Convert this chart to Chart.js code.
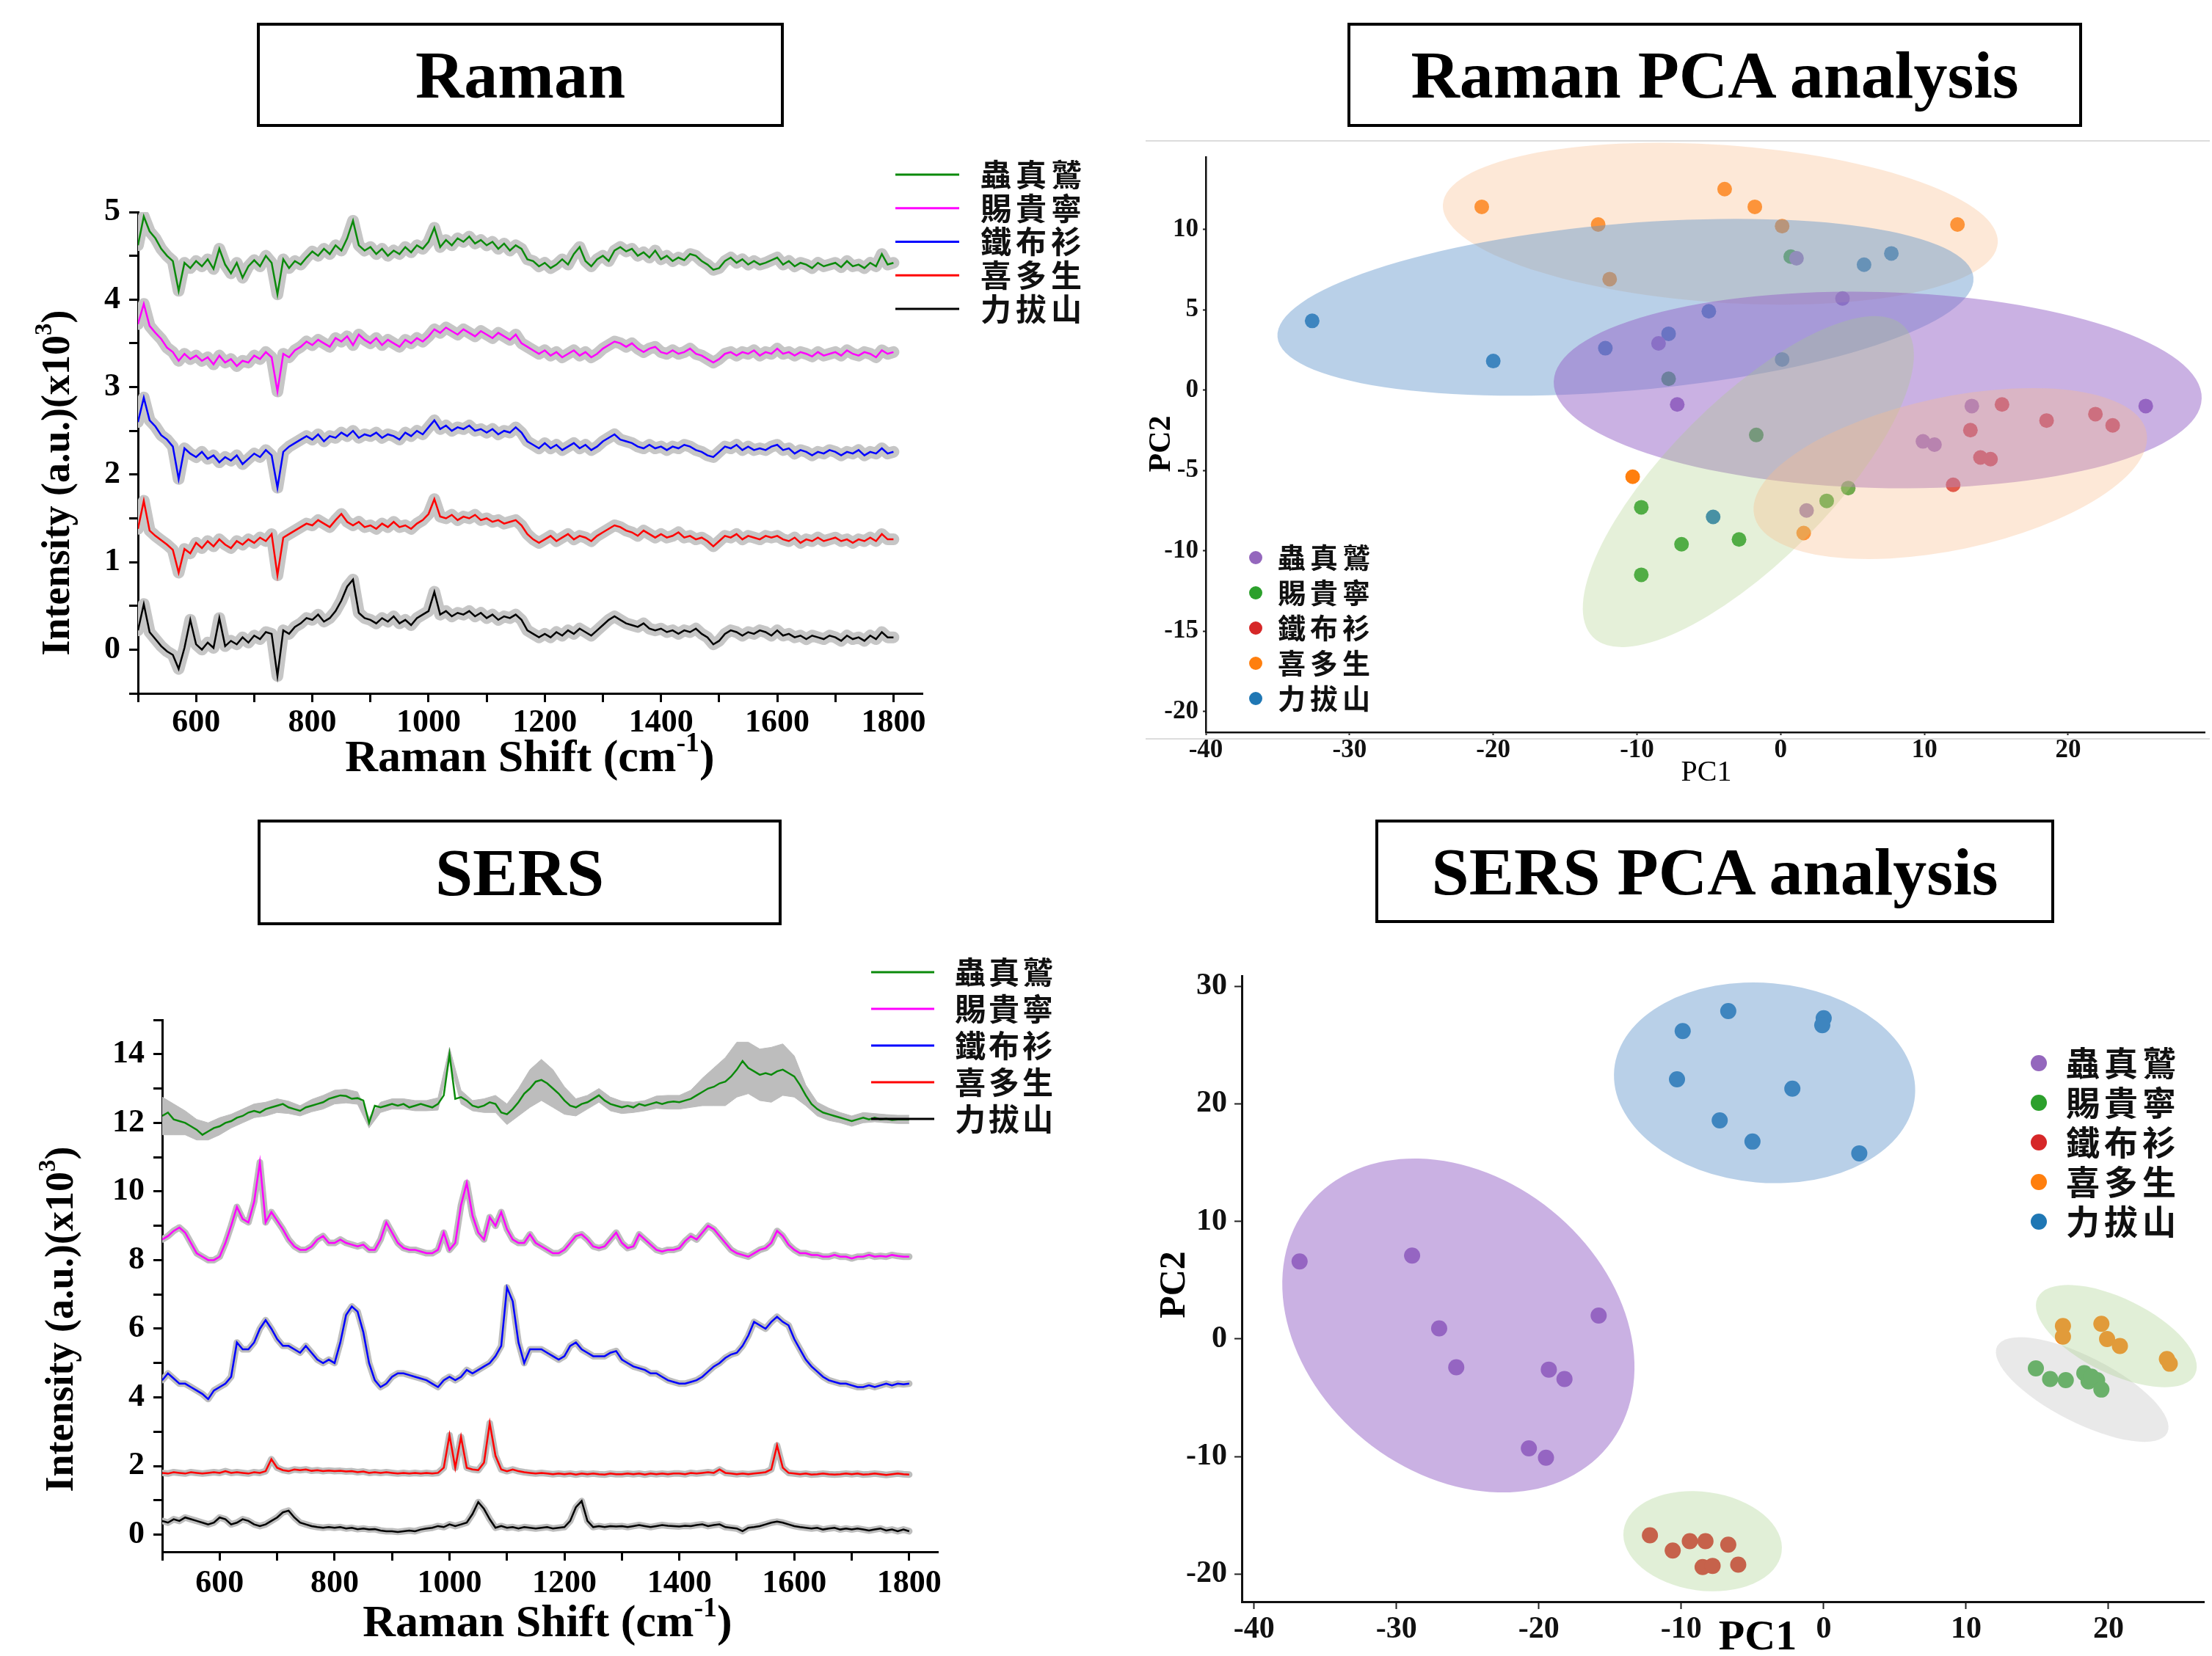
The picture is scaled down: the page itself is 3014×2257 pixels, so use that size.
<!DOCTYPE html>
<html>
<head>
<meta charset="utf-8">
<script src="https://cdn.jsdelivr.net/npm/chart.js@4.4.1/dist/chart.umd.min.js"></script>
<style>
  body { margin: 0; background: #fff; }
  #page { position: relative; width: 3014px; height: 2257px; overflow: hidden; background: #fff; }
  .box {
    position: absolute; box-sizing: border-box; border: 4px solid #000;
    display: flex; align-items: center; justify-content: center;
    font: bold 92px "Liberation Serif", "Times New Roman", serif; color: #000;
  }
  .rule { position: absolute; background: #dcdcdc; }
  canvas { position: absolute; }
</style>
</head>
<body>
<div id="page">
  <div class="box" style="left:350px;top:31px;width:718px;height:142px">Raman</div>
  <div class="box" style="left:1836px;top:31px;width:1001px;height:142px">Raman PCA analysis</div>
  <div class="box" style="left:351px;top:1117px;width:714px;height:144px">SERS</div>
  <div class="box" style="left:1874px;top:1117px;width:925px;height:141px">SERS PCA analysis</div>

  <div class="rule" style="left:1561px;top:191px;width:1450px;height:2px"></div>
  <div class="rule" style="left:1561px;top:1006px;width:1450px;height:2px"></div>

  <canvas id="raman" width="1560" height="920" style="left:0;top:180px"></canvas>
  <canvas id="ramanPca" width="1454" height="900" style="left:1560px;top:180px"></canvas>
  <canvas id="sers" width="1560" height="987" style="left:0;top:1270px"></canvas>
  <canvas id="sersPca" width="1454" height="987" style="left:1560px;top:1270px"></canvas>
</div>

<script>
const sampleNames = ['蟲真鷲', '賜貴寧', '鐵布衫', '喜多生', '力拔山'];

// Raman shift grid (cm-1), shared by both spectra panels
const ramanShift = [
  500, 510, 520, 530, 540, 550, 560, 570, 580, 590,
  600, 610, 620, 630, 640, 650, 660, 670, 680, 690,
  700, 710, 720, 730, 740, 750, 760, 770, 780, 790,
  800, 810, 820, 830, 840, 850, 860, 870, 880, 890,
  900, 910, 920, 930, 940, 950, 960, 970, 980, 990,
  1000, 1010, 1020, 1030, 1040, 1050, 1060, 1070, 1080, 1090,
  1100, 1110, 1120, 1130, 1140, 1150, 1160, 1170, 1180, 1190,
  1200, 1210, 1220, 1230, 1240, 1250, 1260, 1270, 1280, 1290,
  1300, 1310, 1320, 1330, 1340, 1350, 1360, 1370, 1380, 1390,
  1400, 1410, 1420, 1430, 1440, 1450, 1460, 1470, 1480, 1490,
  1500, 1510, 1520, 1530, 1540, 1550, 1560, 1570, 1580, 1590,
  1600, 1610, 1620, 1630, 1640, 1650, 1660, 1670, 1680, 1690,
  1700, 1710, 1720, 1730, 1740, 1750, 1760, 1770, 1780, 1790,
  1800,
];

const shiftTickMarks = [500, 600, 700, 800, 900, 1000, 1100, 1200, 1300, 1400, 1500, 1600, 1700, 1800];
const shiftTickLabels = [600, 800, 1000, 1200, 1400, 1600, 1800];
const ramanYTickMarks = [-0.5, 0, 0.5, 1, 1.5, 2, 2.5, 3, 3.5, 4, 4.5, 5];
const ramanYTickLabels = [0, 1, 2, 3, 4, 5];
const sersYTickMarks = [0, 1, 2, 3, 4, 5, 6, 7, 8, 9, 10, 11, 12, 13, 14, 15];
const sersYTickLabels = [0, 2, 4, 6, 8, 10, 12, 14];
const pcaXTicks = [-40, -30, -20, -10, 0, 10, 20];
const ramanPcaYTicks = [-20, -15, -10, -5, 0, 5, 10];
const sersPcaYTicks = [-20, -10, 0, 10, 20, 30];

// Raman spectra, intensity x10^3 (offset traces)
const ramanChong = [
  4.62, 4.95, 4.78, 4.70, 4.58, 4.50, 4.44, 4.10, 4.42, 4.36,
  4.44, 4.38, 4.46, 4.35, 4.58, 4.40, 4.30, 4.42, 4.25, 4.38,
  4.45, 4.38, 4.50, 4.42, 4.06, 4.46, 4.36, 4.44, 4.40, 4.48,
  4.55, 4.50, 4.58, 4.52, 4.62, 4.56, 4.70, 4.90, 4.62, 4.56,
  4.60, 4.52, 4.58, 4.50, 4.56, 4.52, 4.60, 4.54, 4.62, 4.58,
  4.66, 4.82, 4.60, 4.68, 4.62, 4.70, 4.66, 4.72, 4.64, 4.68,
  4.62, 4.66, 4.58, 4.64, 4.56, 4.62, 4.58, 4.46, 4.44, 4.38,
  4.42, 4.36, 4.40, 4.46, 4.40, 4.52, 4.60, 4.44, 4.38, 4.46,
  4.50, 4.44, 4.56, 4.60, 4.55, 4.58, 4.50, 4.54, 4.48, 4.56,
  4.46, 4.50, 4.44, 4.48, 4.45, 4.52, 4.50, 4.44, 4.40, 4.34,
  4.36, 4.44, 4.48, 4.42, 4.46, 4.40, 4.44, 4.40, 4.42, 4.45,
  4.48, 4.40, 4.44, 4.38, 4.42, 4.40, 4.36, 4.42, 4.38, 4.40,
  4.42, 4.37, 4.44, 4.38, 4.40, 4.36, 4.42, 4.38, 4.52, 4.40,
  4.42,
];
const ramanCigui = [
  3.72, 3.95, 3.70, 3.62, 3.55, 3.45, 3.40, 3.30, 3.38, 3.32,
  3.36, 3.30, 3.34, 3.26, 3.36, 3.28, 3.32, 3.24, 3.30, 3.28,
  3.36, 3.32, 3.40, 3.34, 2.95, 3.38, 3.34, 3.42, 3.46, 3.52,
  3.48, 3.54, 3.50, 3.46, 3.56, 3.52, 3.58, 3.48, 3.60, 3.54,
  3.50, 3.56, 3.48, 3.54, 3.50, 3.46, 3.54, 3.50, 3.56, 3.52,
  3.58, 3.66, 3.62, 3.68, 3.64, 3.60, 3.66, 3.62, 3.58, 3.64,
  3.60, 3.56, 3.62, 3.58, 3.54, 3.60, 3.50, 3.46, 3.42, 3.38,
  3.42, 3.36, 3.40, 3.34, 3.38, 3.42, 3.36, 3.40, 3.34, 3.38,
  3.44, 3.48, 3.52, 3.50, 3.46, 3.50, 3.44, 3.40, 3.44, 3.46,
  3.40, 3.38, 3.42, 3.38, 3.40, 3.44, 3.38, 3.36, 3.32, 3.28,
  3.32, 3.38, 3.40, 3.36, 3.40, 3.38, 3.42, 3.36, 3.40, 3.38,
  3.44, 3.38, 3.40, 3.36, 3.40, 3.38, 3.35, 3.40, 3.36, 3.38,
  3.40, 3.36, 3.42, 3.38, 3.36, 3.40, 3.38, 3.34, 3.42, 3.38,
  3.40,
];
const ramanTiebu = [
  2.60, 2.88, 2.62, 2.55, 2.45, 2.40, 2.32, 1.95, 2.30, 2.24,
  2.20, 2.26, 2.18, 2.22, 2.14, 2.20, 2.16, 2.22, 2.12, 2.18,
  2.24, 2.20, 2.28, 2.22, 1.85, 2.26, 2.32, 2.36, 2.40, 2.44,
  2.40, 2.46, 2.38, 2.44, 2.42, 2.48, 2.44, 2.50, 2.42, 2.46,
  2.44, 2.48, 2.42, 2.46, 2.44, 2.40, 2.48, 2.44, 2.50, 2.46,
  2.54, 2.62, 2.52, 2.56, 2.50, 2.54, 2.52, 2.56, 2.50, 2.52,
  2.48, 2.52, 2.46, 2.50, 2.48, 2.54, 2.48, 2.38, 2.34, 2.30,
  2.36, 2.30, 2.34, 2.28, 2.32, 2.36, 2.30, 2.34, 2.28, 2.32,
  2.38, 2.42, 2.46, 2.40, 2.38, 2.36, 2.32, 2.30, 2.34, 2.30,
  2.32, 2.28, 2.32, 2.30, 2.34, 2.32, 2.28, 2.26, 2.22, 2.20,
  2.26, 2.32, 2.30, 2.34, 2.28, 2.32, 2.28, 2.30, 2.28, 2.32,
  2.34, 2.28, 2.30, 2.24, 2.28, 2.26, 2.22, 2.26, 2.24, 2.28,
  2.26, 2.22, 2.26, 2.24, 2.28, 2.22, 2.26, 2.24, 2.30, 2.24,
  2.26,
];
const ramanXiduo = [
  1.38, 1.70, 1.36, 1.30, 1.25, 1.20, 1.14, 0.88, 1.15, 1.10,
  1.22, 1.16, 1.24, 1.18, 1.26, 1.20, 1.16, 1.24, 1.20, 1.26,
  1.22, 1.28, 1.24, 1.32, 0.85, 1.28, 1.32, 1.36, 1.40, 1.44,
  1.42, 1.48, 1.44, 1.40, 1.48, 1.55, 1.46, 1.42, 1.46, 1.40,
  1.42, 1.38, 1.44, 1.40, 1.46, 1.40, 1.42, 1.38, 1.44, 1.48,
  1.55, 1.72, 1.52, 1.50, 1.54, 1.48, 1.52, 1.50, 1.54, 1.48,
  1.50, 1.46, 1.48, 1.44, 1.46, 1.48, 1.42, 1.32, 1.26, 1.22,
  1.26, 1.30, 1.24, 1.28, 1.32, 1.26, 1.30, 1.28, 1.24, 1.30,
  1.34, 1.38, 1.42, 1.40, 1.36, 1.34, 1.30, 1.36, 1.32, 1.28,
  1.32, 1.28, 1.30, 1.34, 1.28, 1.30, 1.26, 1.28, 1.24, 1.18,
  1.24, 1.30, 1.28, 1.32, 1.26, 1.30, 1.28, 1.26, 1.30, 1.28,
  1.30, 1.26, 1.24, 1.28, 1.22, 1.26, 1.24, 1.28, 1.24, 1.26,
  1.28, 1.24, 1.26, 1.22, 1.26, 1.24, 1.28, 1.24, 1.32, 1.26,
  1.26,
];
const ramanLiba = [
  0.22, 0.52, 0.20, 0.12, 0.04, -0.02, -0.06, -0.22, 0.02, 0.34,
  0.06, 0.00, 0.08, 0.02, 0.36, 0.04, 0.10, 0.06, 0.14, 0.08,
  0.16, 0.12, 0.20, 0.18, -0.30, 0.22, 0.18, 0.26, 0.30, 0.36,
  0.34, 0.40, 0.32, 0.36, 0.44, 0.56, 0.72, 0.80, 0.42, 0.36,
  0.34, 0.30, 0.36, 0.32, 0.38, 0.30, 0.34, 0.28, 0.36, 0.40,
  0.44, 0.66, 0.40, 0.44, 0.38, 0.42, 0.40, 0.44, 0.38, 0.42,
  0.36, 0.40, 0.34, 0.38, 0.36, 0.40, 0.34, 0.22, 0.18, 0.14,
  0.18, 0.14, 0.20, 0.16, 0.22, 0.18, 0.24, 0.20, 0.16, 0.22,
  0.28, 0.34, 0.38, 0.34, 0.30, 0.28, 0.26, 0.30, 0.24, 0.22,
  0.24, 0.20, 0.22, 0.18, 0.22, 0.20, 0.24, 0.18, 0.14, 0.06,
  0.10, 0.18, 0.22, 0.20, 0.16, 0.20, 0.18, 0.22, 0.20, 0.16,
  0.22, 0.16, 0.18, 0.14, 0.16, 0.12, 0.16, 0.14, 0.12, 0.16,
  0.14, 0.10, 0.16, 0.12, 0.14, 0.10, 0.16, 0.12, 0.20, 0.14,
  0.14,
];

// SERS spectra, intensity x10^3 (offset traces)
const sersChong = [
  12.20, 12.30, 12.10, 12.05, 12.00, 11.90, 11.80, 11.65, 11.75, 11.85,
  11.90, 12.00, 12.05, 12.15, 12.20, 12.30, 12.35, 12.30, 12.40, 12.45,
  12.50, 12.55, 12.45, 12.40, 12.35, 12.45, 12.50, 12.55, 12.60, 12.70,
  12.75, 12.80, 12.78, 12.70, 12.72, 12.65, 12.00, 12.50, 12.45, 12.50,
  12.55, 12.50, 12.55, 12.45, 12.50, 12.55, 12.50, 12.45, 12.55, 12.80,
  14.00, 12.70, 12.75, 12.65, 12.50, 12.45, 12.50, 12.60, 12.55, 12.30,
  12.25, 12.40, 12.60, 12.85, 13.00, 13.20, 13.25, 13.15, 13.00, 12.85,
  12.65, 12.50, 12.45, 12.55, 12.60, 12.70, 12.80, 12.65, 12.55, 12.50,
  12.45, 12.50, 12.45, 12.55, 12.50, 12.55, 12.60, 12.55, 12.60, 12.62,
  12.60, 12.65, 12.70, 12.80, 12.90, 13.00, 13.05, 13.15, 13.20, 13.35,
  13.55, 13.80, 13.60, 13.50, 13.40, 13.45, 13.40, 13.50, 13.55, 13.45,
  13.35, 13.10, 12.80, 12.55, 12.40, 12.30, 12.25, 12.20, 12.15, 12.10,
  12.05, 12.10, 12.15, 12.10, 12.15, 12.10, 12.12, 12.08, 12.10, 12.10,
  12.10,
];
// half-width of the grey spread around sersChong, every 20 cm-1
const sersChongSpread = [
  0.55, 0.45, 0.35, 0.30, 0.25,
  0.25, 0.20, 0.20, 0.20, 0.20,
  0.20, 0.18, 0.15, 0.18, 0.20,
  0.20, 0.20, 0.18, 0.15, 0.15,
  0.15, 0.15, 0.15, 0.15, 0.18,
  0.20, 0.20, 0.15, 0.20, 0.25,
  0.30, 0.40, 0.55, 0.60, 0.55,
  0.40, 0.25, 0.20, 0.20, 0.20,
  0.18, 0.15, 0.15, 0.18, 0.20,
  0.20, 0.25, 0.40, 0.55, 0.70,
  0.80, 0.75, 0.75, 0.80, 0.75,
  0.60, 0.30, 0.20, 0.18, 0.15,
  0.15, 0.15, 0.12, 0.12, 0.12,
  0.12,
];
const sersCigui = [
  8.60, 8.70, 8.85, 8.95, 8.80, 8.50, 8.20, 8.10, 8.00, 8.00,
  8.10, 8.50, 9.00, 9.55, 9.20, 9.10, 9.70, 10.85, 9.10, 9.40,
  9.15, 8.90, 8.60, 8.40, 8.30, 8.30, 8.40, 8.60, 8.70, 8.50,
  8.50, 8.60, 8.50, 8.45, 8.40, 8.45, 8.30, 8.30, 8.60, 9.10,
  8.80, 8.50, 8.35, 8.30, 8.30, 8.25, 8.20, 8.20, 8.30, 8.80,
  8.30, 8.50, 9.60, 10.25, 9.30, 8.80, 8.60, 9.25, 9.00, 9.40,
  8.90, 8.60, 8.50, 8.50, 8.75, 8.50, 8.40, 8.30, 8.20, 8.20,
  8.30, 8.50, 8.70, 8.75, 8.60, 8.40, 8.35, 8.40, 8.60, 8.80,
  8.50, 8.35, 8.40, 8.75, 8.60, 8.45, 8.30, 8.25, 8.30, 8.30,
  8.35, 8.55, 8.70, 8.60, 8.80, 9.00, 8.90, 8.70, 8.50, 8.30,
  8.20, 8.15, 8.10, 8.20, 8.30, 8.35, 8.50, 8.85, 8.70, 8.45,
  8.30, 8.20, 8.20, 8.15, 8.15, 8.10, 8.10, 8.15, 8.10, 8.10,
  8.05, 8.10, 8.10, 8.15, 8.10, 8.12, 8.10, 8.15, 8.12, 8.10,
  8.10,
];
const sersTiebu = [
  4.50, 4.70, 4.55, 4.40, 4.40, 4.30, 4.20, 4.10, 3.95, 4.20,
  4.30, 4.40, 4.60, 5.60, 5.40, 5.40, 5.60, 6.00, 6.25, 6.00,
  5.70, 5.50, 5.50, 5.40, 5.30, 5.50, 5.30, 5.10, 5.00, 5.10,
  5.00, 5.60, 6.40, 6.65, 6.50, 5.90, 5.00, 4.50, 4.30, 4.40,
  4.60, 4.70, 4.70, 4.65, 4.60, 4.55, 4.50, 4.40, 4.30, 4.50,
  4.60, 4.50, 4.60, 4.80, 4.70, 4.80, 4.90, 5.00, 5.20, 5.50,
  7.20, 6.80, 5.60, 5.00, 5.40, 5.40, 5.40, 5.30, 5.20, 5.10,
  5.20, 5.50, 5.60, 5.40, 5.30, 5.20, 5.20, 5.20, 5.30, 5.35,
  5.10, 5.00, 4.90, 4.85, 4.80, 4.70, 4.70, 4.60, 4.50, 4.45,
  4.40, 4.40, 4.45, 4.50, 4.60, 4.75, 4.90, 5.00, 5.15, 5.25,
  5.30, 5.50, 5.80, 6.20, 6.10, 6.00, 6.20, 6.35, 6.20, 6.10,
  5.70, 5.40, 5.10, 4.90, 4.75, 4.60, 4.50, 4.45, 4.40, 4.40,
  4.35, 4.30, 4.30, 4.35, 4.30, 4.35, 4.40, 4.35, 4.40, 4.38,
  4.40,
];
const sersXiduo = [
  1.80, 1.78, 1.82, 1.80, 1.78, 1.82, 1.80, 1.78, 1.80, 1.82,
  1.80, 1.85, 1.80, 1.82, 1.80, 1.78, 1.82, 1.80, 1.85, 2.20,
  1.95, 1.88, 1.85, 1.90, 1.88, 1.90, 1.86, 1.88, 1.85, 1.87,
  1.85, 1.86, 1.84, 1.85, 1.82, 1.84, 1.80, 1.82, 1.80, 1.82,
  1.80, 1.78, 1.80, 1.78, 1.80, 1.78, 1.80, 1.78, 1.80, 1.95,
  2.90, 1.95, 2.85, 1.95, 1.90, 1.88, 2.10, 3.25, 2.30, 1.90,
  1.85, 1.90, 1.85, 1.82, 1.80, 1.78, 1.80, 1.78, 1.76, 1.78,
  1.76, 1.78, 1.75, 1.78, 1.76, 1.78, 1.76, 1.75, 1.78, 1.76,
  1.76, 1.78, 1.76, 1.78, 1.75, 1.78, 1.76, 1.78, 1.76, 1.78,
  1.78, 1.76, 1.80, 1.78, 1.80, 1.82, 1.80, 1.90, 1.80, 1.78,
  1.76, 1.78, 1.76, 1.78, 1.80, 1.82, 1.90, 2.60, 1.95, 1.80,
  1.78, 1.76, 1.78, 1.75, 1.76, 1.78, 1.76, 1.75, 1.76, 1.78,
  1.76, 1.78, 1.75, 1.76, 1.78, 1.76, 1.74, 1.76, 1.78, 1.76,
  1.75,
];
const sersLiba = [
  0.40, 0.35, 0.45, 0.40, 0.50, 0.45, 0.40, 0.35, 0.30, 0.35,
  0.50, 0.45, 0.30, 0.35, 0.45, 0.40, 0.30, 0.25, 0.30, 0.40,
  0.50, 0.65, 0.70, 0.50, 0.35, 0.30, 0.25, 0.22, 0.20, 0.22,
  0.20, 0.22, 0.18, 0.20, 0.16, 0.18, 0.15, 0.16, 0.12, 0.10,
  0.10, 0.08, 0.10, 0.12, 0.10, 0.15, 0.18, 0.20, 0.25, 0.22,
  0.30, 0.25, 0.30, 0.35, 0.60, 0.95, 0.75, 0.45, 0.20, 0.25,
  0.20, 0.22, 0.18, 0.22, 0.20, 0.18, 0.20, 0.22, 0.18, 0.20,
  0.22, 0.40, 0.80, 0.98, 0.40, 0.22, 0.25, 0.22, 0.25, 0.24,
  0.25, 0.22, 0.25, 0.28, 0.25, 0.22, 0.25, 0.28, 0.26, 0.25,
  0.24, 0.26, 0.25, 0.28, 0.30, 0.25, 0.28, 0.30, 0.22, 0.20,
  0.18, 0.10, 0.20, 0.22, 0.25, 0.30, 0.35, 0.38, 0.35, 0.30,
  0.25, 0.22, 0.20, 0.18, 0.20, 0.15, 0.18, 0.20, 0.15, 0.18,
  0.15, 0.18, 0.15, 0.12, 0.15, 0.18, 0.12, 0.15, 0.10, 0.15,
  0.10,
];

// Raman PCA scores (PC1, PC2) per sample
const ramanPcaChongX = [-8.5, -7.2, 1.1, 4.3, 9.9, 10.7, 13.3, 1.8, 25.4];
const ramanPcaChongY = [2.9, -0.9, 8.2, 5.7, -3.2, -3.4, -1.0, -7.5, -1.0];
const ramanPcaCiguiX = [-7.8, -1.7, 0.7, -9.7, -6.9, -2.9, -9.7, 3.2, 4.7];
const ramanPcaCiguiY = [0.7, -2.8, 8.3, -7.3, -9.6, -9.3, -11.5, -6.9, -6.1];
const ramanPcaTiebuX = [13.2, 15.4, 18.5, 21.9, 23.1, 13.9, 14.6, 12.0];
const ramanPcaTiebuY = [-2.5, -0.9, -1.9, -1.5, -2.2, -4.2, -4.3, -5.9];
const ramanPcaXiduoX = [-20.8, -12.7, -11.9, -3.9, -1.8, 0.1, 12.3, -10.3, 1.6];
const ramanPcaXiduoY = [11.4, 10.3, 6.9, 12.5, 11.4, 10.2, 10.3, -5.4, -8.9];
const ramanPcaLibaX = [-32.6, -20.0, -12.2, -7.8, -5.0, 0.1, -4.7, 5.8, 7.7];
const ramanPcaLibaY = [4.3, 1.8, 2.6, 3.5, 4.9, 1.9, -7.9, 7.8, 8.5];

// SERS PCA scores (PC1, PC2) per sample
const sersPcaChongX = [-36.8, -28.9, -27.0, -25.8, -15.8, -19.3, -18.2, -20.7, -19.5];
const sersPcaChongY = [6.6, 7.1, 0.9, -2.4, 2.0, -2.6, -3.4, -9.3, -10.1];
const sersPcaCiguiX = [14.9, 15.9, 17.0, 18.3, 18.6, 19.2, 19.5, 18.8];
const sersPcaCiguiY = [-2.5, -3.4, -3.5, -2.9, -3.6, -3.5, -4.3, -3.2];
const sersPcaTiebuX = [-12.2, -10.6, -9.4, -8.3, -6.7, -8.5, -7.8, -6.0];
const sersPcaTiebuY = [-16.7, -18.0, -17.2, -17.2, -17.5, -19.4, -19.3, -19.2];
const sersPcaXiduoX = [16.8, 16.8, 19.5, 19.9, 20.8, 24.1, 24.3];
const sersPcaXiduoY = [1.1, 0.2, 1.3, 0.0, -0.6, -1.7, -2.1];
const sersPcaLibaX = [-6.7, -9.9, 0.0, -0.1, -10.3, -2.2, -7.3, -5.0, 2.5];
const sersPcaLibaY = [27.9, 26.2, 27.3, 26.7, 22.1, 21.3, 18.6, 16.8, 15.8];

// confidence ellipses: [centre PC1, centre PC2, semi-axis (PC1 units), semi-axis (PC2 units), tilt deg]
const ramanEllipses = [
  [-4.2, 10.35, 19.35, 4.9, -4],
  [-10.8, 5.15, 24.3, 5.2, 4.9],
  [6.75, 0.0, 22.55, 6.1, -1.5],
  [-2.25, -5.7, 15.3, 5.0, 45],
  [11.8, -5.2, 13.95, 4.75, 12],
];
const sersEllipses = [
  [-25.65, 1.15, 13.5, 12.6, -39],
  [-4.15, 21.8, 10.6, 8.5, -5],
  [-8.5, -17.2, 5.6, 4.2, -8],
  [18.15, -4.3, 6.7, 2.8, -27],
  [20.55, 0.25, 6.15, 3.2, -26],
];

const serif = '"Liberation Serif", "Times New Roman", serif';
const cjk = '"Noto Sans CJK TC", "Noto Sans CJK SC", sans-serif';
const lineColors = ['#0b8a0b', '#ff00ff', '#0000ff', '#ff0000', '#000000'];
const dotColors = ['#9467bd', '#2ca02c', '#d62728', '#ff7f0e', '#1f77b4'];
const bandGray = '#bdbdbd';

Chart.defaults.font.family = serif;

function points(xs, ys) {
  return xs.map((x, i) => ({ x, y: ys[i] }));
}

function spectraSets(series, bandWidth, bandColor, skipBand) {
  const lines = series.map((s, k) => ({
    label: sampleNames[k],
    data: points(ramanShift, s),
    borderColor: lineColors[k],
    borderWidth: 2.5,
    pointRadius: 0,
    order: 0,
  }));
  const bands = series
    .filter((s, k) => !skipBand.includes(k))
    .map((s) => ({
      band: true,
      data: points(ramanShift, s),
      borderColor: bandColor,
      borderWidth: bandWidth,
      borderJoinStyle: 'round',
      borderCapStyle: 'round',
      pointRadius: 0,
      order: 1,
    }));
  return [...lines, ...bands];
}

function spectraScale(axis, min, max, marks, labels, size, pad) {
  return {
    type: 'linear',
    min,
    max,
    afterBuildTicks: (s) => { s.ticks = marks.map((v) => ({ value: v })); },
    afterFit: (s) => { if (axis === 'x') s.height = size; else s.width = size; },
    ticks: {
      autoSkip: false,
      maxRotation: 0,
      padding: pad,
      color: '#000',
      font: { family: serif, size: 44, weight: 'bold' },
      callback: (v) => (labels.includes(v) ? String(v) : ''),
    },
    grid: { drawOnChartArea: false, tickLength: 12, tickWidth: 3, tickColor: '#000' },
    border: { color: '#000', width: 3 },
  };
}

function pcaSets(xs, ys, radius) {
  return xs.map((xv, k) => ({
    label: sampleNames[k],
    data: points(xv, ys[k]),
    backgroundColor: dotColors[k],
    borderWidth: 0,
    pointRadius: radius,
  }));
}

function pcaScale(axis, min, max, ticksList, size, fontSize, tickLen, pad, lineWidth) {
  return {
    type: 'linear',
    min,
    max,
    afterBuildTicks: (s) => { s.ticks = ticksList.map((v) => ({ value: v })); },
    afterFit: (s) => { if (axis === 'x') s.height = size; else s.width = size; },
    ticks: {
      autoSkip: false,
      maxRotation: 0,
      padding: pad,
      color: '#111',
      font: { family: serif, size: fontSize, weight: 'bold' },
    },
    grid: { drawOnChartArea: false, tickLength: tickLen, tickWidth: 2, tickColor: '#222' },
    border: { color: '#111', width: lineWidth },
  };
}

function ellipsePlugin(items, fills) {
  return {
    id: 'ellipses',
    afterDatasetsDraw(chart) {
      const { ctx } = chart;
      const { x, y } = chart.scales;
      ctx.save();
      items.forEach(([cx, cy, rx, ry, deg], i) => {
        const px = x.getPixelForValue(cx);
        const py = y.getPixelForValue(cy);
        const rxp = Math.abs(x.getPixelForValue(cx + rx) - px);
        const ryp = Math.abs(y.getPixelForValue(cy + ry) - py);
        ctx.beginPath();
        ctx.ellipse(px, py, rxp, ryp, -deg * Math.PI / 180, 0, Math.PI * 2);
        ctx.fillStyle = fills[i];
        ctx.fill();
      });
      ctx.restore();
    },
  };
}

// sample key drawn at a fixed spot of the panel
function keyPlugin(o) {
  return {
    id: 'sampleKey',
    afterDraw(chart) {
      const { ctx } = chart;
      ctx.save();
      ctx.font = `bold ${o.size}px ${cjk}`;
      ctx.textBaseline = 'middle';
      ctx.textAlign = 'left';
      if ('letterSpacing' in ctx) ctx.letterSpacing = o.spacing + 'px';
      chart.data.datasets.filter((d) => !d.band).forEach((d, i) => {
        const y = o.y + i * o.gap;
        if (o.marker === 'line') {
          ctx.strokeStyle = d.borderColor;
          ctx.lineWidth = 3;
          ctx.beginPath();
          ctx.moveTo(o.x, y);
          ctx.lineTo(o.x + o.len, y);
          ctx.stroke();
        } else {
          ctx.fillStyle = d.backgroundColor;
          ctx.beginPath();
          ctx.arc(o.x, y, o.r, 0, Math.PI * 2);
          ctx.fill();
        }
        ctx.fillStyle = '#111';
        ctx.fillText(d.label, o.textX, y);
      });
      ctx.restore();
    },
  };
}

// axis titles with optional superscript parts
function titlePlugin(items) {
  return {
    id: 'axisTitles',
    afterDraw(chart) {
      const { ctx } = chart;
      items.forEach((t) => {
        const fontOf = (p) => `${t.weight} ${p.sup ? Math.round(t.size * 0.62) : t.size}px ${serif}`;
        ctx.save();
        ctx.translate(t.x, t.y);
        if (t.rotate) ctx.rotate(-Math.PI / 2);
        ctx.fillStyle = '#000';
        ctx.textBaseline = 'middle';
        ctx.textAlign = 'left';
        const widths = t.parts.map((p) => { ctx.font = fontOf(p); return ctx.measureText(p.text).width; });
        let cx = -widths.reduce((a, b) => a + b, 0) / 2;
        t.parts.forEach((p, i) => {
          ctx.font = fontOf(p);
          ctx.fillText(p.text, cx, p.sup ? -t.size * 0.34 : 0);
          cx += widths[i];
        });
        ctx.restore();
      });
    },
  };
}

const baseOptions = {
  responsive: false,
  animation: false,
  events: [],
};
const quiet = { legend: { display: false }, tooltip: { enabled: false } };

const shiftTitle = [{ text: 'Raman Shift (cm' }, { text: '-1', sup: true }, { text: ')' }];
const intensityTitle = [{ text: 'Intensity (a.u.)(x10' }, { text: '3', sup: true }, { text: ')' }];

// Raman spectra
new Chart(document.getElementById('raman').getContext('2d'), {
  type: 'line',
  data: { datasets: spectraSets([ramanChong, ramanCigui, ramanTiebu, ramanXiduo, ramanLiba], 16, '#c6c6c6', []) },
  options: {
    ...baseOptions,
    layout: { padding: { left: 0, top: 109, right: 303, bottom: 30 } },
    plugins: quiet,
    scales: {
      x: spectraScale('x', 500, 1850, shiftTickMarks, shiftTickLabels, 125, 2),
      y: spectraScale('y', -0.5, 5, ramanYTickMarks, ramanYTickLabels, 188, 12),
    },
  },
  plugins: [
    keyPlugin({ marker: 'line', x: 1220, len: 87, textX: 1336, y: 58, gap: 45.75, size: 42, spacing: 6 }),
    titlePlugin([
      { parts: shiftTitle, x: 722, y: 855, size: 62, weight: 'bold' },
      { parts: intensityTitle, x: 80, y: 478, size: 54, weight: 'bold', rotate: true },
    ]),
  ],
});

// SERS spectra
const sersSets = spectraSets([sersChong, sersCigui, sersTiebu, sersXiduo, sersLiba], 9, bandGray, [0]);
const spreadShift = ramanShift.filter((_, i) => i % 2 === 0);
sersSets.push(
  {
    band: true,
    data: spreadShift.map((x, k) => ({ x, y: sersChong[k * 2] + sersChongSpread[k] })),
    borderColor: bandGray, borderWidth: 1, backgroundColor: bandGray, fill: '+1', pointRadius: 0, order: 2,
  },
  {
    band: true,
    data: spreadShift.map((x, k) => ({ x, y: sersChong[k * 2] - sersChongSpread[k] })),
    borderColor: bandGray, borderWidth: 1, fill: false, pointRadius: 0, order: 2,
  },
);
new Chart(document.getElementById('sers').getContext('2d'), {
  type: 'line',
  data: { datasets: sersSets },
  options: {
    ...baseOptions,
    layout: { padding: { left: 0, top: 120, right: 282, bottom: 17 } },
    plugins: quiet,
    scales: {
      x: spectraScale('x', 500, 1850, shiftTickMarks, shiftTickLabels, 125, 5),
      y: spectraScale('y', -0.5, 15, sersYTickMarks, sersYTickLabels, 221, 12),
    },
  },
  plugins: [
    keyPlugin({ marker: 'line', x: 1187, len: 86, textX: 1301, y: 55, gap: 50, size: 42, spacing: 4 }),
    titlePlugin([
      { parts: shiftTitle, x: 746, y: 944, size: 62, weight: 'bold' },
      { parts: intensityTitle, x: 85, y: 528, size: 54, weight: 'bold', rotate: true },
    ]),
  ],
});

// Raman PCA
new Chart(document.getElementById('ramanPca').getContext('2d'), {
  type: 'scatter',
  data: {
    datasets: pcaSets(
      [ramanPcaChongX, ramanPcaCiguiX, ramanPcaTiebuX, ramanPcaXiduoX, ramanPcaLibaX],
      [ramanPcaChongY, ramanPcaCiguiY, ramanPcaTiebuY, ramanPcaXiduoY, ramanPcaLibaY],
      10,
    ),
  },
  options: {
    ...baseOptions,
    layout: { padding: { left: 0, top: 34, right: 3, bottom: 2 } },
    plugins: quiet,
    scales: {
      x: pcaScale('x', -40, 29.5, pcaXTicks, 80, 35, 4, 0, 2.5),
      y: pcaScale('y', -21.3, 14.5, ramanPcaYTicks, 83, 35, 4, 6, 2.5),
    },
  },
  plugins: [
    ellipsePlugin(ramanEllipses, [
      'rgba(250,190,140,0.35)',
      'rgba(100,150,205,0.45)',
      'rgba(150,100,200,0.5)',
      'rgba(170,205,130,0.3)',
      'rgba(250,190,140,0.35)',
    ]),
    keyPlugin({ marker: 'dot', x: 151, r: 9, textX: 181, y: 580, gap: 48, size: 38, spacing: 6 }),
    titlePlugin([
      { parts: [{ text: 'PC1' }], x: 765, y: 873, size: 40, weight: 'normal' },
      { parts: [{ text: 'PC2' }], x: 23, y: 425, size: 42, weight: 'bold', rotate: true },
    ]),
  ],
});

// SERS PCA
new Chart(document.getElementById('sersPca').getContext('2d'), {
  type: 'scatter',
  data: {
    datasets: pcaSets(
      [sersPcaChongX, sersPcaCiguiX, sersPcaTiebuX, sersPcaXiduoX, sersPcaLibaX],
      [sersPcaChongY, sersPcaCiguiY, sersPcaTiebuY, sersPcaXiduoY, sersPcaLibaY],
      11,
    ),
  },
  options: {
    ...baseOptions,
    layout: { padding: { left: 0, top: 60, right: 8, bottom: 2 } },
    plugins: quiet,
    scales: {
      x: pcaScale('x', -40.86, 26.7, pcaXTicks, 72, 42, 10, 3, 3),
      y: pcaScale('y', -22.35, 30.9, sersPcaYTicks, 132, 42, 10, 10, 3),
    },
  },
  plugins: [
    ellipsePlugin(sersEllipses, [
      'rgba(150,100,200,0.5)',
      'rgba(100,150,205,0.45)',
      'rgba(170,210,140,0.35)',
      'rgba(200,200,200,0.4)',
      'rgba(170,210,140,0.35)',
    ]),
    keyPlugin({ marker: 'dot', x: 1218, r: 11, textX: 1255, y: 179, gap: 54, size: 46, spacing: 6 }),
    titlePlugin([
      { parts: [{ text: 'PC1' }], x: 835, y: 963, size: 58, weight: 'bold' },
      { parts: [{ text: 'PC2' }], x: 41, y: 481, size: 50, weight: 'bold', rotate: true },
    ]),
  ],
});
</script>
</body>
</html>
